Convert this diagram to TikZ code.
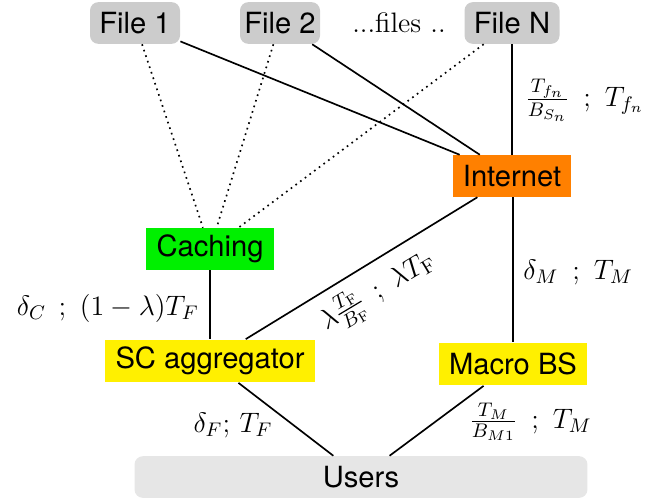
\RequirePackage{fix-cm}
\documentclass[tikz,border=0pt]{standalone}
\usepackage{fontspec}
\setsansfont{TeX Gyre Heros}
\usepackage{amsmath}
\definecolor{filegray}{HTML}{CCCCCC}
\definecolor{usergray}{HTML}{E6E6E6}
\definecolor{netorange}{HTML}{FF8000}
\definecolor{cachegreen}{HTML}{00F000}
\definecolor{aggyellow}{HTML}{FFF000}
\begin{document}
\begin{tikzpicture}[x=0.48pt,y=-0.48pt,
  box/.style={font=\sffamily\fontsize{14}{16}\selectfont, inner sep=0pt, minimum height=20pt},
  filebox/.style={box, fill=filegray, rounded corners=4pt},
  userbox/.style={box, fill=usergray, rounded corners=4pt},
  lbl/.style={font=\fontsize{13.5}{16}\selectfont, inner sep=0pt},
  link/.style={line width=0.8pt},
  dot/.style={line width=0.8pt, dotted}]
\useasboundingbox (0,0) rectangle (657,502);
% nodes
\node[filebox, minimum width=43.2pt] (f1) at (135,23) {File 1};
\node[filebox, minimum width=38.4pt] (f2) at (280,23) {File 2};
\node[lbl] (dots) at (399,23) {...files ..};
\node[filebox, minimum width=45.6pt] (fn) at (512,23) {File N};
\node[box, fill=netorange, minimum width=57.1pt] (net) at (512,176) {Internet};
\node[box, fill=cachegreen, minimum width=61pt] (cache) at (210,249) {Caching};
\node[box, fill=aggyellow, minimum width=100.8pt, minimum height=20.6pt] (sc) at (210,361) {SC aggregator};
\node[box, fill=aggyellow, minimum width=71pt, minimum height=20.6pt] (mbs) at (513,364) {Macro BS};
\node[userbox, minimum width=217.4pt] (users) at (361,477) {Users};
% connectors
\draw[link] (f1) -- (net);
\draw[link] (f2) -- (net);
\draw[link] (fn) -- (net);
\draw[dot] (f1) -- (cache);
\draw[dot] (f2) -- (cache);
\draw[dot] (fn) -- (cache);
\draw[link] (net) -- (sc);
\draw[link] (net.south -| mbs.north) -- (mbs.north);
\draw[link] (cache) -- (sc);
\draw[link] (sc) -- (users);
\draw[link] (mbs) -- (users);
% labels
\node[lbl, anchor=west] (lfn) at (525,100) {$\frac{T_{f_n}}{B_{S_n}}\enspace;\ T_{f_n}$};
\node[lbl, anchor=west] (lm) at (523,272) {$\delta_M\enspace;\ T_M$};
\node[lbl, anchor=east] (lc) at (199,308) {$\delta_C\;\,;\ (1-\lambda)T_F$};
\node[lbl, rotate=31] (lf) at (378,292) {$\lambda\frac{T_{\mathrm{F}}}{B_{\mathrm{F}}}\;\,;\ \lambda T_{\mathrm{F}}$};
\node[lbl] (ldf) at (233,425) {$\delta_F;\,T_F$};
\node[lbl, anchor=west] (lmu) at (469,422) {$\frac{T_M}{B_{M1}}\enspace;\ T_M$};
\end{tikzpicture}
\end{document}
